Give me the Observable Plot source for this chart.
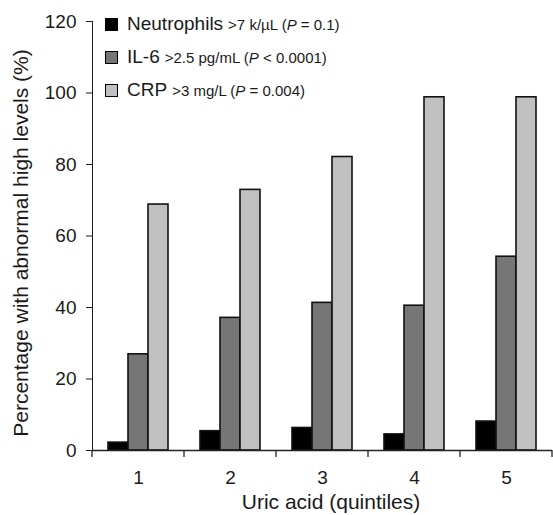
<!DOCTYPE html>
<html><head><meta charset="utf-8">
<script src="https://cdn.jsdelivr.net/npm/d3@7"></script>
<script src="https://cdn.jsdelivr.net/npm/@observablehq/plot@0.6"></script>
<style>
body{margin:0;background:#fff;}
#chart{position:relative;width:553px;height:515px;font-family:"Liberation Sans",Arial,Helvetica,sans-serif;color:#1a1a1a;}
#chart svg{position:absolute;left:0;top:0;}
.ylab{position:absolute;left:21px;top:243px;transform:translate(-50%,-50%) rotate(-90deg);font-size:21px;white-space:nowrap;}
.xlab{position:absolute;left:331px;top:502px;transform:translate(-50%,-50%);font-size:21px;white-space:nowrap;}
.leg{position:absolute;left:105px;font-size:19px;white-space:nowrap;display:flex;align-items:center;}
.leg .sw{width:11px;height:11px;border:1.5px solid #000;margin-right:9px;}
.leg small{font-size:15px;margin-left:5px;}
</style>
</head><body><div id="chart"></div>
<script>
const quintiles = [1, 2, 3, 4, 5];
const series = ["Neutrophils", "IL-6", "CRP"];
const neutrophils = [2.2, 5.4, 6.3, 4.5, 8.1];
const il6 = [26.9, 37.1, 41.3, 40.5, 54.2];
const crp = [68.8, 72.9, 82.1, 98.8, 98.8];
const yTicks = [0, 20, 40, 60, 80, 100, 120];
const colors = ["#000000", "#767676", "#c0c0c0"];
const legendNotes = [">7 k/µL (<i>P</i> = 0.1)", ">2.5 pg/mL (<i>P</i> &lt; 0.0001)", ">3 mg/L (<i>P</i> = 0.004)"];
const yTitle = "Percentage with abnormal high levels (%)";
const xTitle = "Uric acid (quintiles)";

const valuesBySeries = [neutrophils, il6, crp];
const rows = [];
quintiles.forEach((q, i) => series.forEach((s, j) => rows.push({q, s, v: valuesBySeries[j][i]})));

const plot = Plot.plot({
  width: 553, height: 515,
  marginLeft: 91, marginRight: 0, marginTop: 21, marginBottom: 65,
  style: {fontFamily: "Liberation Sans, Arial, sans-serif", fontSize: "19px", color: "#1a1a1a", background: "transparent"},
  fx: {domain: quintiles, padding: 0, label: null, tickSize: 0, tickPadding: 20},
  x: {domain: series, paddingInner: 0, paddingOuter: 0.77, axis: null},
  y: {domain: [0, 120], ticks: yTicks, tickSize: 6, tickPadding: 10, line: true, label: null},
  color: {domain: series, range: colors},
  marks: [
    Plot.barY(rows, {fx: "q", x: "s", y: "v", fill: "s", stroke: "#111", strokeWidth: 1.6}),
    Plot.ruleY([0], {stroke: "#222", strokeWidth: 1.3})
  ]
});

// boundary ticks on the quintile axis
const fx = plot.scale("fx");
const ys = plot.scale("y");
const y0 = ys.apply(0);
const edges = quintiles.map(q => fx.apply(q)).concat([fx.apply(quintiles[quintiles.length - 1]) + fx.bandwidth]);
d3.select(plot).append("g").attr("stroke", "#222").attr("stroke-width", 1.3)
  .selectAll("line").data(edges).join("line")
  .attr("x1", d => d).attr("x2", d => d).attr("y1", y0).attr("y2", y0 + 7);

const chart = document.getElementById("chart");
chart.appendChild(plot);

const yl = document.createElement("div"); yl.className = "ylab"; yl.textContent = yTitle; chart.appendChild(yl);
const xl = document.createElement("div"); xl.className = "xlab"; xl.textContent = xTitle; chart.appendChild(xl);

const legendTops = [13, 46, 79];
series.forEach((s, i) => {
  const d = document.createElement("div");
  d.className = "leg";
  d.style.top = legendTops[i] + "px";
  d.innerHTML = `<span class="sw" style="background:${colors[i]}"></span><span>${s}</span><small>${legendNotes[i]}</small>`;
  chart.appendChild(d);
});
</script>
</body></html>
